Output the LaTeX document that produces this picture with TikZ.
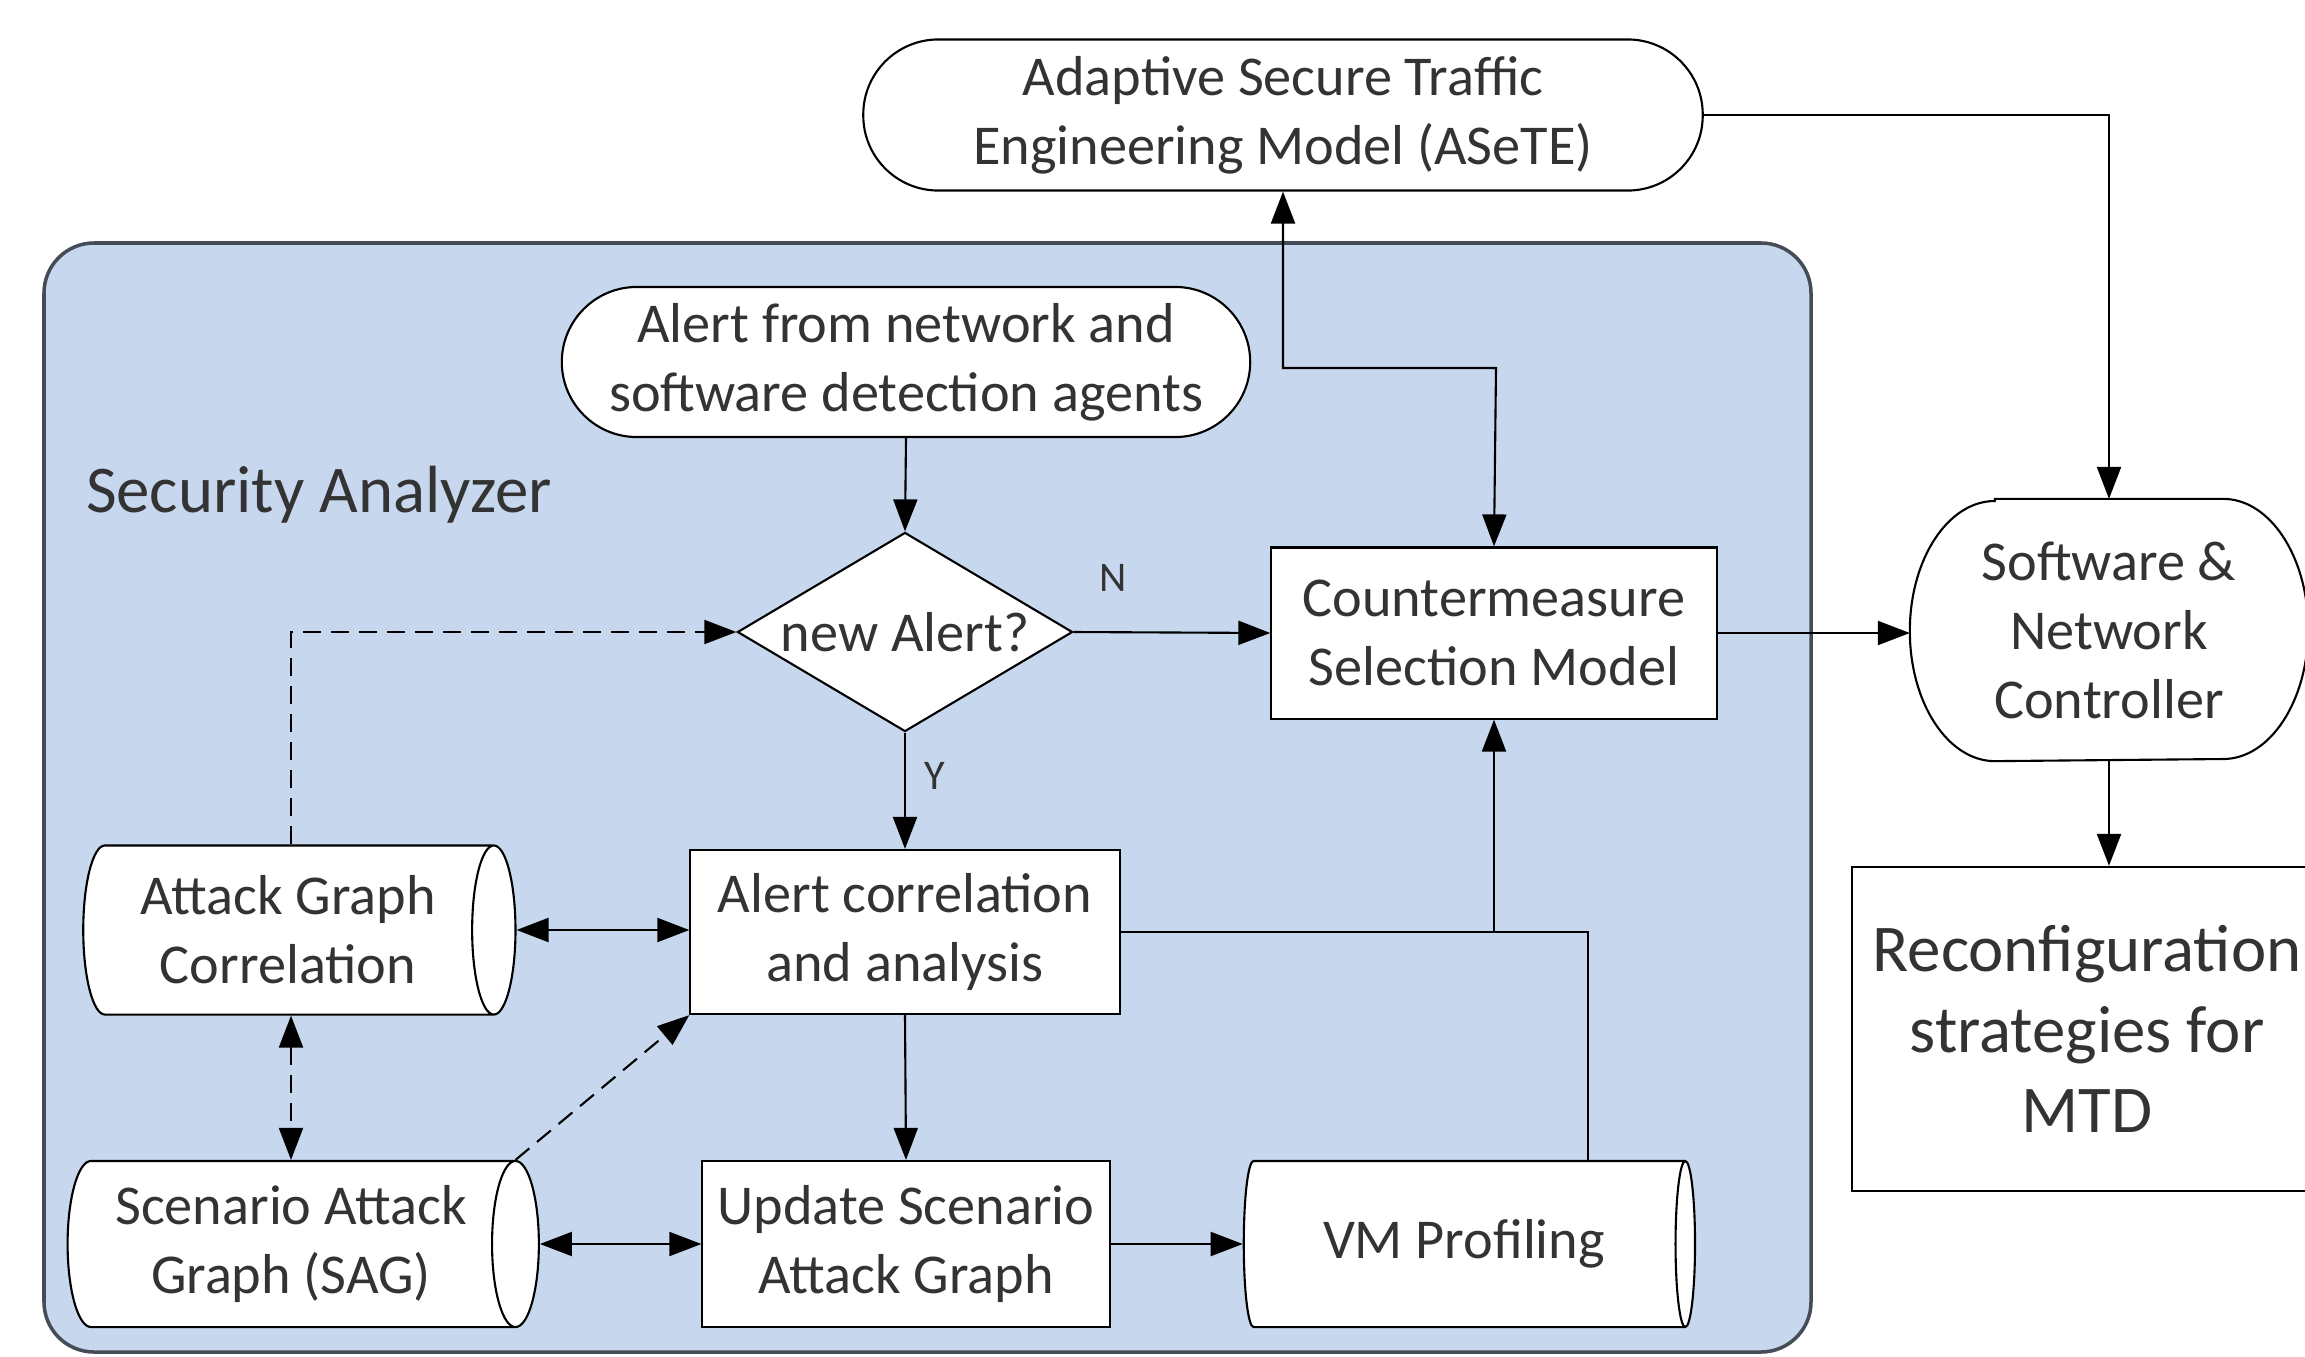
\documentclass[tikz,border=0pt]{standalone}
\usepackage{fontspec}
\setmainfont{Carlito}
\usetikzlibrary{shapes.geometric,arrows.meta}

\definecolor{lanse}{RGB}{198,215,238}
\definecolor{kuangxian}{RGB}{70,76,86}

\begin{document}
\begin{tikzpicture}[x=0.01cm,y=-0.01cm,
  line width=0.6pt,
  >={Triangle[length=3.2mm,width=2.4mm]},
  % 节点的style
  kuang/.style={draw,fill=white,align=center,text=black!80,inner sep=0pt,
    font=\fontsize{16}{19.6}\selectfont},
  box/.style={kuang,rectangle},
  zhongduan/.style={kuang,rectangle,rounded corners=0.75cm},
  % 圆柱: minimum height是沿轴的长度
  tong/.style={kuang,cylinder,shape aspect=0.4},
  pan/.style={kuang,diamond,aspect=1.68},
  biaoqian/.style={inner sep=0pt,text=black!80,font=\fontsize{12}{14}\selectfont},
  xuxian/.style={dash pattern=on 1.8mm off 1mm}]

  \useasboundingbox (0,0) rectangle (2305,1357);

  % 蓝色的底
  \draw[fill=lanse,draw=kuangxian,line width=1pt,rounded corners=0.5cm]
    (44,243) rectangle (1811,1352);
  \node[anchor=west,inner sep=0pt,text=black!80,font=\fontsize{19}{23}\selectfont]
    (salabel) at (85,495) {Security Analyzer};

  % 画节点
  \node[zhongduan,minimum width=8.39cm,minimum height=1.51cm] (asete) at (1283,115)
    {Adaptive Secure Traffic\\Engineering Model (ASeTE)};
  \node[zhongduan,minimum width=6.88cm,minimum height=1.50cm] (alert) at (906,362)
    {Alert from network and\\software detection agents};
  \node[pan,minimum width=3.35cm,minimum height=1.99cm] (newalert) at (905,632) {new Alert?};
  \node[box,minimum width=4.45cm,minimum height=1.71cm] (cms) at (1494,633)
    {Countermeasure\\Selection Model};
  \node[box,minimum width=4.29cm,minimum height=1.64cm] (acorr) at (905,932)
    {Alert correlation\\and analysis};
  \node[box,minimum width=4.07cm,minimum height=1.66cm] (update) at (906,1244)
    {Update Scenario\\Attack Graph};
  \node[tong,minimum height=4.32cm,minimum width=1.69cm] (agc) at (288,930)
    {Attack Graph\\Correlation};
  \node[tong,minimum height=4.71cm,minimum width=1.66cm] (sag) at (291,1244)
    {Scenario Attack\\Graph (SAG)};
  \node[tong,minimum height=4.51cm,minimum width=1.66cm] (vm) at (1464,1244) {VM Profiling};
  \node[box,minimum width=4.7cm,minimum height=3.24cm,font=\fontsize{19}{23}\selectfont]
    (recon) at (2087,1029) {Reconfiguration\\strategies for\\MTD};

  % 控制器(两头是椭圆)
  \node[kuang,draw=none,fill=none,minimum width=3.96cm,minimum height=2.6cm] (ctrl)
    at (2109,630) {Software \&\\Network\\Controller};
  \draw ([xshift=0.85cm]ctrl.north west) -- ([xshift=-0.85cm]ctrl.north east)
    arc[start angle=90,end angle=-90,x radius=0.85cm,y radius=1.3cm]
    -- ([xshift=0.85cm]ctrl.south west)
    arc[start angle=270,end angle=90,x radius=0.85cm,y radius=1.3cm] -- cycle;

  % 拐点
  \coordinate (cmsup) at (1496,368);
  \coordinate (vmj) at (1588,932);
  \coordinate (dj) at (291,632);

  % 画箭头
  \draw[->] (alert.south) -- (newalert.north);
  \draw[->] (newalert.south) -- node[biaoqian,pos=0.37,right=0.18cm] {Y} (acorr.north);
  \draw[->] (newalert.east) -- node[biaoqian,pos=0.2,above=0.4cm] {N} (cms.west);
  \draw[->] (cms.east) -- (cms.east -| ctrl.west);
  \draw[->] (asete.east) -| (ctrl.north);
  \draw[->] (ctrl.south) -- (ctrl.south |- recon.north);
  \draw[<->] (asete.south) |- (cmsup) -- (cms.north);
  \draw (acorr.east) -- (vmj) -- (vm.north -| vmj);
  \draw[->] (cms.south |- vmj) -- (cms.south);
  \draw[<->] (agc.east) -- (agc.east -| acorr.west);
  \draw[<->] (sag.east) -- (sag.east -| update.west);
  \draw[->] (acorr.south) -- (update.north);
  \draw[->] (update.east) -- (vm.west);

  % 虚线
  \draw[->,xuxian] (agc.north -| dj) |- (newalert.west);
  \draw[<->,xuxian] (agc.south -| dj) -- (sag.north -| dj);
  \draw[->,xuxian] (sag.before top) -- (acorr.south west);

\end{tikzpicture}
\end{document}
